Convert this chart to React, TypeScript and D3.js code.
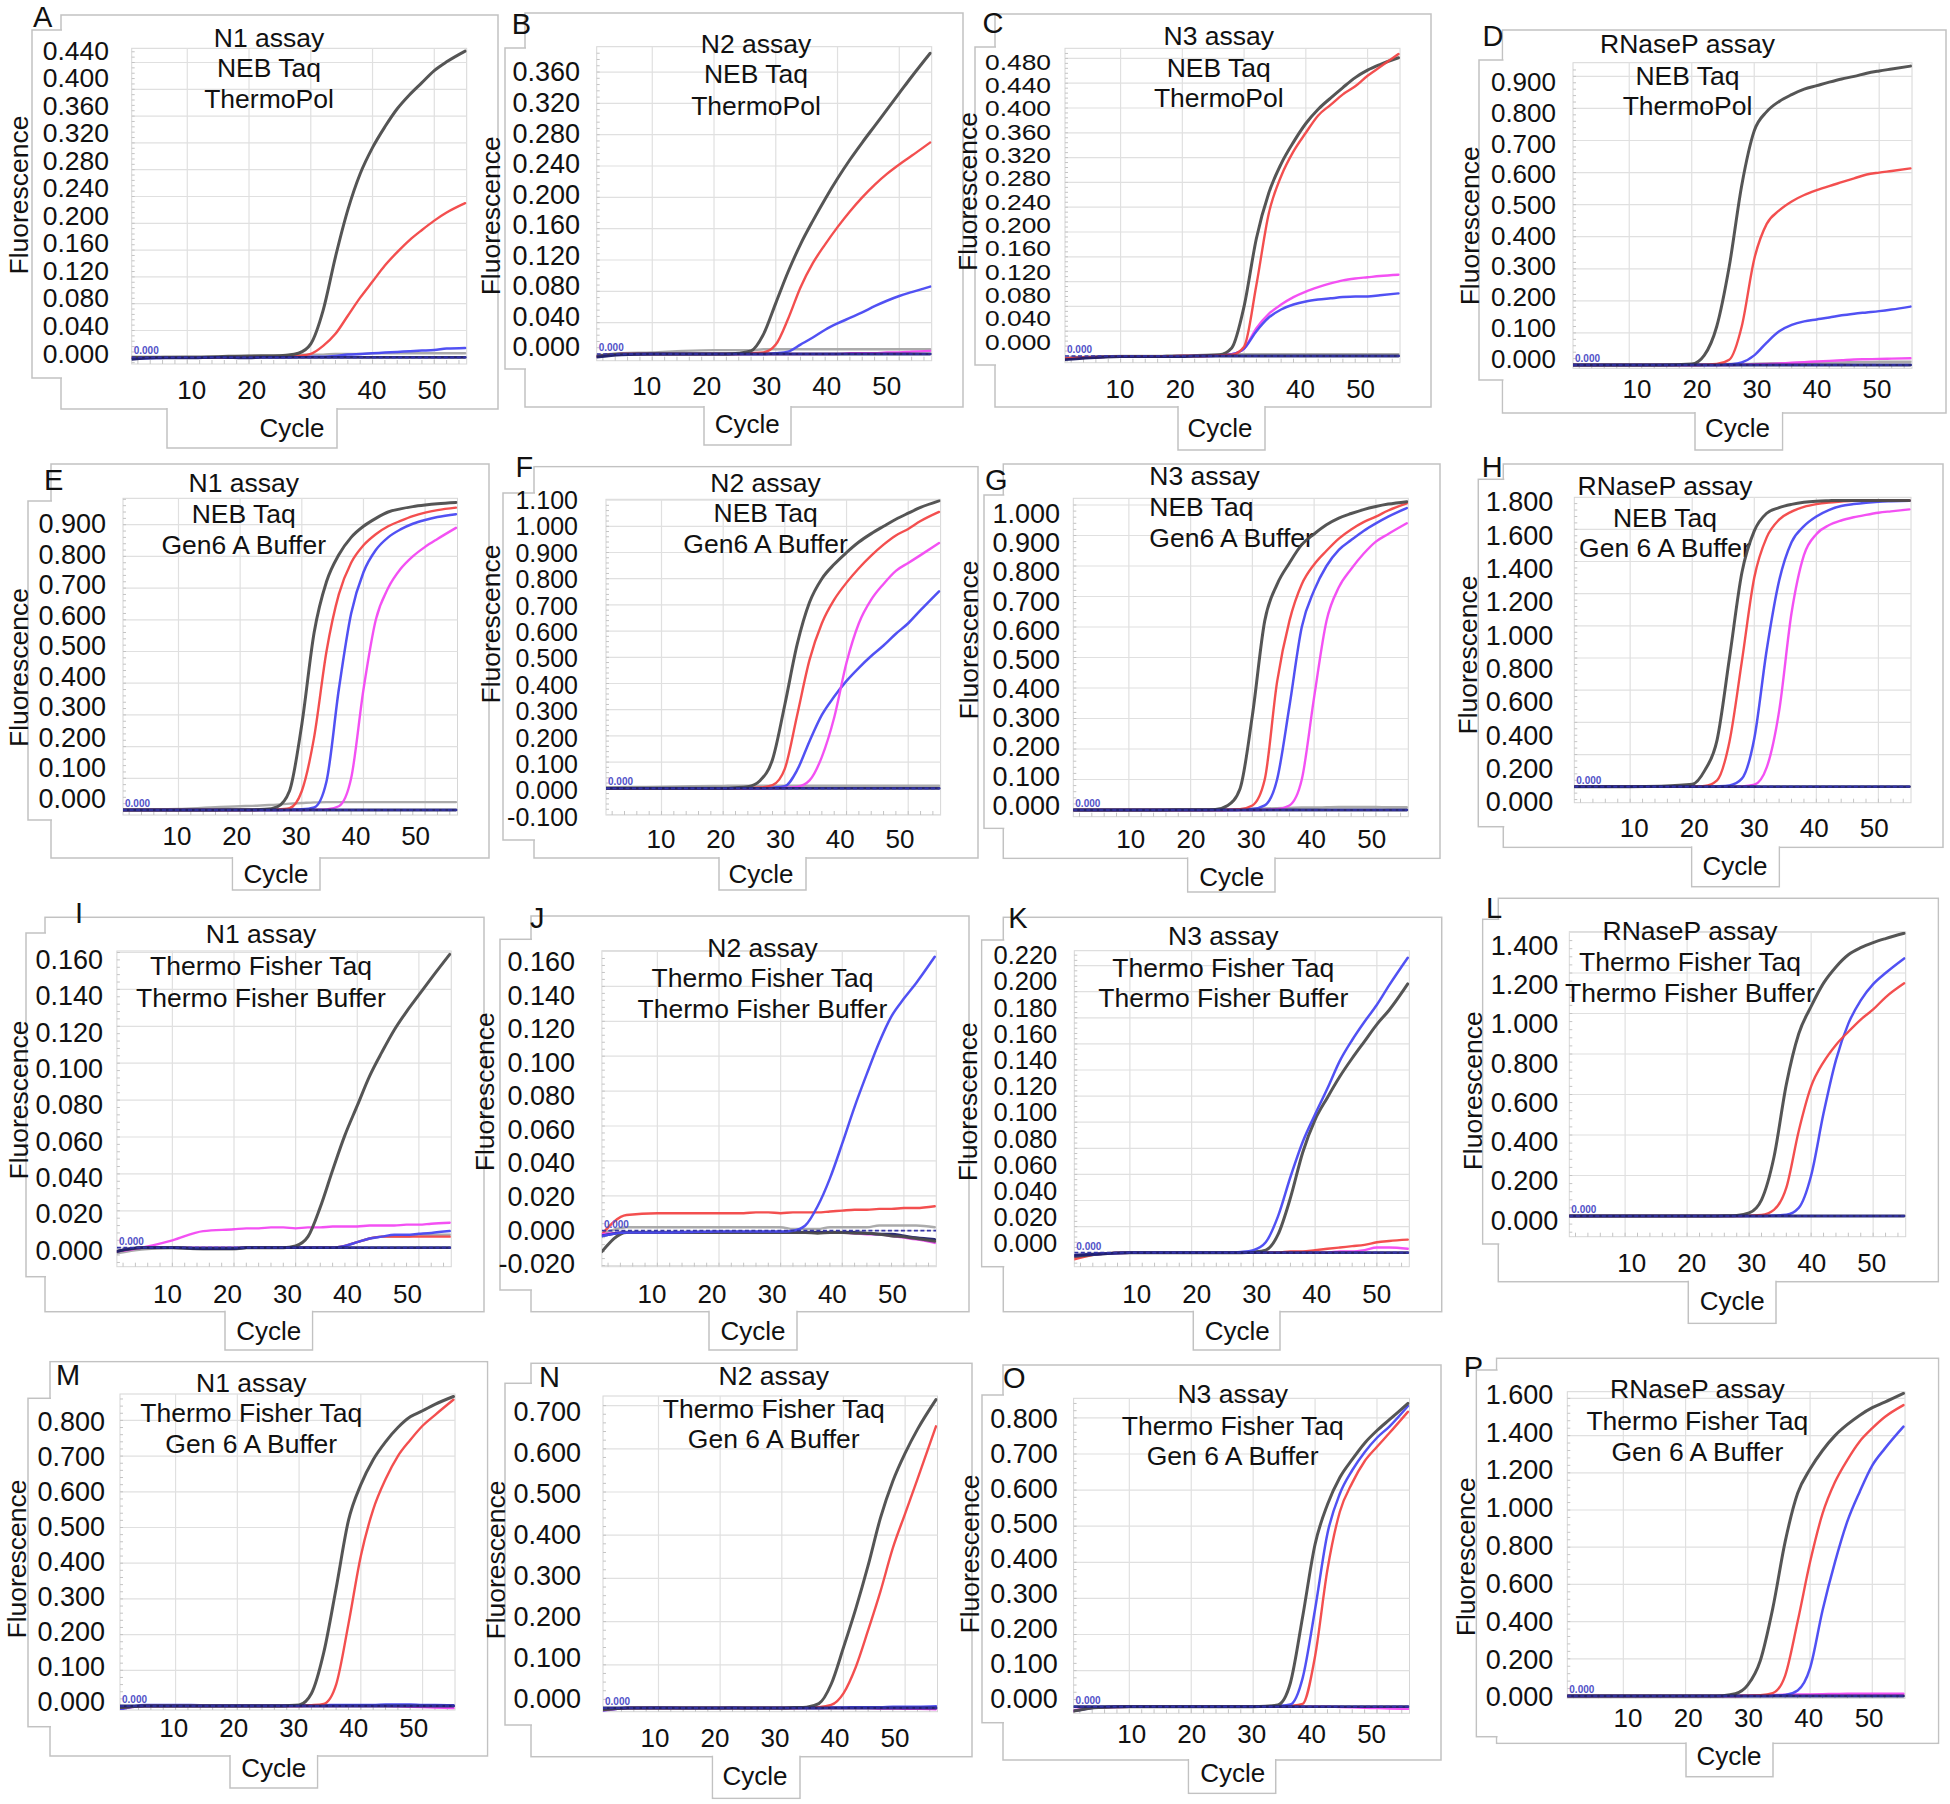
import React from "react";
import * as d3 from "d3";

// ---------------- data ----------------
const CYCLES = [1, 5, 10, 15, 20, 22, 24, 26, 28, 30, 32, 34, 36, 38, 40, 42, 44, 46, 48, 50, 52, 55];
const X_TICK_VALUES = [10, 20, 30, 40, 50];
const X_TICK_LABELS = ["10", "20", "30", "40", "50"];
const X_DOMAIN = [1, 55.25];
const BASELINE = [0, 0, 0, 0, 0, 0, 0, 0, 0, 0, 0, 0, 0, 0, 0, 0, 0, 0, 0, 0, 0, 0];

// A  N1 / NEB Taq / ThermoPol
const A_black = [0, 0, 0, 0.001, 0.002, 0.002, 0.002, 0.003, 0.006, 0.02, 0.07, 0.15, 0.22, 0.274, 0.313, 0.344, 0.371, 0.392, 0.41, 0.428, 0.441, 0.457];
const A_red = [0, 0, 0, 0, 0.001, 0.001, 0.001, 0.001, 0.002, 0.005, 0.017, 0.035, 0.062, 0.089, 0.113, 0.137, 0.157, 0.175, 0.19, 0.204, 0.216, 0.23];
const A_blue = [-0.002, -0.001, 0, 0, 0, 0, 0, 0, 0.001, 0.001, 0.001, 0.002, 0.004, 0.005, 0.006, 0.007, 0.008, 0.009, 0.01, 0.011, 0.013, 0.014];
const A_gray = [-0.001, 0, 0.001, 0.001, 0.002, 0.003, 0.003, 0.003, 0.004, 0.004, 0.004, 0.005, 0.005, 0.005, 0.006, 0.006, 0.006, 0.006, 0.006, 0.006, 0.006, 0.006];
const A_navy = [-0.003, -0.001, -0.001, 0, -0.001, 0, 0, 0, 0, 0, 0, 0, 0, 0, 0, 0, 0, 0, 0, 0, 0, 0];
// B  N2 / NEB Taq / ThermoPol
const B_black = [-0.003, 0, 0, 0, 0, 0, 0.001, 0.004, 0.025, 0.065, 0.105, 0.14, 0.17, 0.198, 0.224, 0.248, 0.27, 0.291, 0.312, 0.333, 0.354, 0.384];
const B_red = [-0.003, 0, 0, 0, 0, 0, 0, 0.001, 0.002, 0.012, 0.045, 0.085, 0.116, 0.14, 0.162, 0.182, 0.2, 0.216, 0.23, 0.242, 0.253, 0.27];
const B_blue = [-0.003, 0, 0, 0, 0, 0, 0, 0, 0, 0.001, 0.003, 0.012, 0.021, 0.031, 0.039, 0.046, 0.053, 0.061, 0.068, 0.074, 0.079, 0.086];
const B_gray = [-0.002, 0.001, 0.002, 0.004, 0.005, 0.005, 0.005, 0.005, 0.006, 0.006, 0.006, 0.006, 0.006, 0.006, 0.006, 0.006, 0.006, 0.006, 0.006, 0.006, 0.006, 0.006];
const B_magenta = [-0.003, 0, 0, 0, 0, 0, 0, 0, 0, 0, 0, 0, 0, 0, 0, 0.001, 0.001, 0.001, 0.002, 0.002, 0.003, 0.004];
const B_navy = [-0.004, -0.001, 0, 0, 0, 0, 0, 0, 0, 0, 0, 0, 0, 0, 0, 0, 0, 0, 0, 0, 0, 0];
// C  N3 / NEB Taq / ThermoPol
const C_black = [-0.004, -0.002, -0.001, -0.001, 0, 0, 0.001, 0.002, 0.013, 0.08, 0.19, 0.263, 0.31, 0.345, 0.375, 0.398, 0.416, 0.433, 0.449, 0.461, 0.47, 0.481];
const C_red = [-0.004, -0.002, -0.001, -0.001, 0, 0, 0, 0.001, 0.002, 0.015, 0.115, 0.23, 0.29, 0.33, 0.36, 0.388, 0.405, 0.422, 0.435, 0.452, 0.466, 0.487];
const C_magenta = [-0.004, -0.002, -0.001, -0.001, 0, 0, 0, 0.001, 0.003, 0.012, 0.045, 0.068, 0.083, 0.095, 0.104, 0.111, 0.117, 0.122, 0.125, 0.127, 0.129, 0.131];
const C_blue = [-0.004, -0.002, -0.001, -0.001, 0, 0, 0, 0.001, 0.003, 0.012, 0.04, 0.062, 0.075, 0.083, 0.088, 0.091, 0.093, 0.095, 0.096, 0.096, 0.098, 0.101];
const C_gray = [-0.004, -0.002, 0, 0, 0.001, 0.001, 0.002, 0.002, 0.003, 0.003, 0.003, 0.003, 0.003, 0.003, 0.003, 0.003, 0.003, 0.003, 0.003, 0.003, 0.003, 0.003];
const C_navy = [-0.006, -0.003, -0.001, -0.001, -0.001, 0, 0, 0, 0, 0, 0, 0, 0, 0, 0, 0, 0, 0, 0, 0, 0, 0];
// D  RNaseP / NEB Taq / ThermoPol
const D_black = [0, 0, 0, 0, 0.003, 0.03, 0.12, 0.307, 0.56, 0.73, 0.79, 0.822, 0.843, 0.86, 0.871, 0.882, 0.892, 0.9, 0.91, 0.917, 0.923, 0.932];
const D_red = [0, 0, 0, 0, 0, 0.001, 0.003, 0.016, 0.12, 0.33, 0.44, 0.482, 0.51, 0.53, 0.545, 0.558, 0.57, 0.582, 0.594, 0.6, 0.605, 0.613];
const D_blue = [0, 0, 0, 0, 0, 0, 0, 0.002, 0.008, 0.03, 0.07, 0.105, 0.125, 0.136, 0.142, 0.148, 0.155, 0.16, 0.164, 0.168, 0.173, 0.182];
const D_magenta = [0, 0, 0, 0, 0, 0, 0, 0, 0.001, 0.002, 0.003, 0.005, 0.007, 0.009, 0.011, 0.013, 0.015, 0.017, 0.018, 0.019, 0.02, 0.021];
const D_gray = [0, 0, 0, 0.001, 0.001, 0.002, 0.002, 0.003, 0.003, 0.004, 0.005, 0.006, 0.006, 0.007, 0.007, 0.008, 0.008, 0.009, 0.009, 0.01, 0.01, 0.01];
// E  N1 / NEB Taq / Gen6 A
const E_black = [0, 0, 0, 0, 0.001, 0.001, 0.002, 0.01, 0.06, 0.27, 0.56, 0.72, 0.805, 0.86, 0.895, 0.92, 0.94, 0.95, 0.957, 0.962, 0.966, 0.97];
const E_red = [0, 0, 0, 0, 0, 0, 0.001, 0.002, 0.006, 0.06, 0.23, 0.5, 0.68, 0.78, 0.835, 0.87, 0.895, 0.912, 0.927, 0.938, 0.946, 0.954];
const E_blue = [0, 0, 0, 0, 0, 0, 0, 0, 0.001, 0.002, 0.008, 0.09, 0.38, 0.62, 0.75, 0.82, 0.86, 0.885, 0.903, 0.915, 0.924, 0.933];
const E_magenta = [0, 0, 0, 0, 0, 0, 0, 0, 0, 0, 0.001, 0.002, 0.012, 0.1, 0.38, 0.6, 0.7, 0.76, 0.8, 0.83, 0.855, 0.89];
const E_gray = [0, 0.002, 0.003, 0.008, 0.012, 0.013, 0.015, 0.017, 0.02, 0.022, 0.024, 0.025, 0.025, 0.025, 0.025, 0.025, 0.025, 0.025, 0.025, 0.025, 0.025, 0.025];
// F  N2 / NEB Taq / Gen6 A
const F_black = [0, 0, 0, 0, 0, 0.002, 0.006, 0.03, 0.11, 0.32, 0.55, 0.71, 0.8, 0.855, 0.9, 0.94, 0.972, 1.0, 1.027, 1.05, 1.072, 1.097];
const F_red = [0, 0, 0, 0, 0, 0, 0.001, 0.003, 0.012, 0.075, 0.28, 0.49, 0.63, 0.72, 0.785, 0.84, 0.888, 0.93, 0.965, 0.99, 1.02, 1.055];
const F_magenta = [0, 0, 0, 0, 0, 0, 0, 0, 0, 0.001, 0.005, 0.03, 0.12, 0.27, 0.48, 0.63, 0.72, 0.78, 0.83, 0.86, 0.89, 0.936];
const F_blue = [0, 0, 0, 0, 0, 0, 0, 0, 0.002, 0.008, 0.07, 0.18, 0.28, 0.35, 0.41, 0.46, 0.505, 0.545, 0.59, 0.63, 0.68, 0.752];
const F_gray = [0.003, 0.005, 0.006, 0.008, 0.009, 0.01, 0.01, 0.01, 0.01, 0.01, 0.01, 0.01, 0.01, 0.01, 0.01, 0.01, 0.01, 0.01, 0.01, 0.01, 0.01, 0.01];
// G  N3 / NEB Taq / Gen6 A
const G_black = [0, 0, 0, 0, 0.001, 0.001, 0.002, 0.015, 0.07, 0.31, 0.62, 0.74, 0.81, 0.87, 0.905, 0.935, 0.957, 0.972, 0.985, 0.995, 1.003, 1.011];
const G_red = [0, 0, 0, 0, 0, 0, 0, 0.001, 0.003, 0.015, 0.1, 0.42, 0.62, 0.74, 0.805, 0.85, 0.89, 0.92, 0.944, 0.962, 0.982, 1.005];
const G_blue = [0, 0, 0, 0, 0, 0, 0, 0, 0.001, 0.003, 0.015, 0.1, 0.34, 0.6, 0.72, 0.8, 0.853, 0.885, 0.915, 0.94, 0.962, 0.99];
const G_magenta = [0, 0, 0, 0, 0, 0, 0, 0, 0, 0, 0.001, 0.003, 0.015, 0.1, 0.37, 0.62, 0.73, 0.79, 0.84, 0.88, 0.905, 0.94];
const G_gray = [0, 0, 0, 0, 0, 0.001, 0.001, 0.002, 0.003, 0.004, 0.005, 0.006, 0.007, 0.008, 0.008, 0.009, 0.01, 0.01, 0.01, 0.01, 0.009, 0.009];
// H  RNaseP / NEB Taq / Gen 6 A
const H_black = [0, 0, 0, 0.003, 0.015, 0.1, 0.29, 0.8, 1.33, 1.59, 1.7, 1.735, 1.755, 1.768, 1.775, 1.778, 1.78, 1.78, 1.78, 1.78, 1.78, 1.78];
const H_red = [0, 0, 0, 0, 0.002, 0.005, 0.04, 0.28, 0.78, 1.3, 1.55, 1.66, 1.71, 1.74, 1.757, 1.767, 1.773, 1.778, 1.78, 1.78, 1.78, 1.78];
const H_blue = [0, 0, 0, 0, 0, 0, 0.002, 0.008, 0.05, 0.3, 0.85, 1.28, 1.52, 1.62, 1.68, 1.72, 1.745, 1.757, 1.766, 1.772, 1.775, 1.778];
const H_magenta = [0, 0, 0, 0, 0, 0, 0, 0, 0.002, 0.012, 0.12, 0.47, 1.08, 1.44, 1.57, 1.625, 1.655, 1.675, 1.69, 1.703, 1.712, 1.724];
// I  N1 / TF Taq / TF Buffer
const I_black = [-0.002, 0, 0, -0.0005, -0.0005, 0, 0, 0, 0, 0.001, 0.006, 0.022, 0.042, 0.061, 0.077, 0.093, 0.106, 0.118, 0.128, 0.137, 0.146, 0.159];
const I_magenta = [-0.002, 0, 0.004, 0.009, 0.01, 0.0105, 0.0105, 0.011, 0.011, 0.0105, 0.011, 0.011, 0.0115, 0.0115, 0.0115, 0.012, 0.012, 0.012, 0.0125, 0.0125, 0.013, 0.0135];
const I_red = [-0.002, 0, 0, 0, 0, 0, 0, 0, 0, 0, 0, 0, 0, 0.001, 0.003, 0.005, 0.006, 0.006, 0.006, 0.006, 0.006, 0.006];
const I_blue = [-0.002, 0, 0, 0, 0, 0, 0, 0, 0, 0, 0, 0, 0, 0.001, 0.003, 0.005, 0.006, 0.007, 0.007, 0.0075, 0.008, 0.009];
const I_gray = [-0.003, -0.001, 0, -0.001, -0.001, 0, 0, 0, 0, 0, 0, 0, 0, 0.001, 0.003, 0.005, 0.006, 0.006, 0.006, 0.007, 0.007, 0.007];
const I_navy = [-0.002, 0, 0, -0.0005, -0.0005, 0, 0, 0, 0, 0, 0, 0, 0, 0, 0, 0, 0, 0, 0, 0, 0, 0];
// J  N2 / TF Taq / TF Buffer
const J_blue = [-0.003, -0.001, -0.001, -0.0008, -0.0005, -0.0005, -0.0005, -0.0005, -0.0005, -0.0005, 0, 0.003, 0.014, 0.03, 0.05, 0.071, 0.09, 0.108, 0.123, 0.133, 0.142, 0.157];
const J_red = [-0.002, 0.009, 0.01, 0.01, 0.01, 0.01, 0.01, 0.0105, 0.0105, 0.01, 0.0105, 0.0105, 0.0105, 0.011, 0.0115, 0.012, 0.012, 0.0125, 0.0125, 0.013, 0.013, 0.014];
const J_gray = [-0.002, 0.002, 0.002, 0.002, 0.002, 0.002, 0.002, 0.002, 0.002, 0.002, 0.001, 0.001, 0.001, 0.002, 0.002, 0.002, 0.002, 0.003, 0.003, 0.003, 0.003, 0.002];
const J_black = [-0.012, -0.001, -0.001, -0.001, -0.001, -0.001, -0.001, -0.001, -0.001, -0.001, -0.001, -0.001, -0.0015, -0.001, -0.001, -0.0015, -0.0015, -0.002, -0.003, -0.0035, -0.0045, -0.006];
const J_magenta = [-0.002, -0.001, -0.001, -0.001, -0.001, -0.001, -0.001, -0.001, -0.001, -0.001, -0.001, -0.001, -0.001, -0.001, -0.001, -0.0015, -0.002, -0.002, -0.003, -0.004, -0.005, -0.007];
const J_navy = [-0.003, -0.001, -0.001, -0.001, -0.001, -0.001, -0.001, -0.001, -0.001, -0.001, -0.001, -0.001, -0.001, -0.001, -0.001, -0.001, -0.0015, -0.002, -0.002, -0.003, -0.004, -0.005];
// K  N3 / TF Taq / TF Buffer
const K_blue = [-0.002, -0.001, 0, 0, 0, 0, 0, 0, 0.0005, 0.002, 0.008, 0.028, 0.058, 0.085, 0.106, 0.126, 0.147, 0.163, 0.177, 0.19, 0.205, 0.226];
const K_black = [-0.003, -0.001, 0, 0, 0, 0, 0, 0, 0, 0.0005, 0.002, 0.014, 0.042, 0.077, 0.102, 0.119, 0.135, 0.149, 0.162, 0.175, 0.186, 0.206];
const K_red = [-0.005, -0.001, 0, 0, 0, 0, 0, 0, 0, 0, 0, 0, 0.001, 0.001, 0.002, 0.003, 0.004, 0.005, 0.006, 0.008, 0.009, 0.01];
const K_magenta = [-0.003, -0.001, 0, 0, 0, 0, 0, 0, 0, 0, 0, 0, 0, 0, 0, 0, 0.001, 0.001, 0.002, 0.004, 0.004, 0.003];
const K_navy = [-0.002, -0.001, 0, 0, 0, 0, 0, 0, 0, 0, 0, 0, 0, 0, 0, 0, 0, 0, 0, 0, 0, 0];
// L  RNaseP / TF Taq / TF Buffer
const L_black = [0, 0, 0, 0, 0, 0, 0, 0.001, 0.003, 0.015, 0.08, 0.29, 0.65, 0.9, 1.035, 1.15, 1.23, 1.29, 1.325, 1.35, 1.37, 1.396];
const L_red = [0, 0, 0, 0, 0, 0, 0, 0, 0, 0.002, 0.005, 0.03, 0.14, 0.42, 0.64, 0.76, 0.845, 0.91, 0.97, 1.02, 1.08, 1.149];
const L_blue = [0, 0, 0, 0, 0, 0, 0, 0, 0, 0, 0, 0.002, 0.006, 0.04, 0.2, 0.507, 0.77, 0.95, 1.065, 1.145, 1.2, 1.272];
// M  N1 / TF Taq / Gen 6 A
const M_black = [-0.005, 0, 0, 0, 0, 0, 0, 0, 0.001, 0.003, 0.035, 0.15, 0.33, 0.52, 0.62, 0.69, 0.74, 0.78, 0.81, 0.827, 0.845, 0.867];
const M_red = [-0.005, 0, 0, 0, 0, 0, 0, 0, 0, 0, 0.002, 0.006, 0.06, 0.23, 0.42, 0.55, 0.635, 0.7, 0.745, 0.785, 0.815, 0.858];
const M_blue = [-0.01, 0.003, 0.003, 0.002, 0.002, 0.002, 0.002, 0.002, 0.002, 0.002, 0.002, 0.002, 0.003, 0.003, 0.003, 0.003, 0.004, 0.004, 0.004, 0.003, 0.003, 0.002];
const M_magenta = [-0.008, 0, 0, 0, 0, 0, 0, 0, 0, 0, 0, 0, 0, 0, 0, 0, 0, -0.001, -0.002, -0.003, -0.004, -0.006];
// N  N2 / TF Taq / Gen 6 A
const N_black = [-0.004, 0, 0, 0, 0, 0, 0, 0, 0, 0, 0.001, 0.002, 0.01, 0.055, 0.14, 0.23, 0.33, 0.44, 0.525, 0.59, 0.645, 0.714];
const N_red = [-0.004, 0, 0, 0, 0, 0, 0, 0, 0, 0, 0, 0.001, 0.002, 0.007, 0.034, 0.095, 0.18, 0.27, 0.37, 0.45, 0.53, 0.652];
const N_blue = [-0.006, 0, 0.001, 0, 0, 0.001, 0, 0, 0, 0, 0, 0, 0, 0.001, 0.001, 0.002, 0.002, 0.002, 0.003, 0.003, 0.003, 0.004];
const N_magenta = [-0.006, 0, 0, 0, 0, 0, 0, 0, 0, 0, 0, 0, 0, 0, 0, 0, 0, -0.001, -0.001, -0.002, -0.002, -0.003];
// O  N3 / TF Taq / Gen 6 A
const O_black = [-0.012, -0.002, 0, 0, 0, 0, 0, 0, 0, 0, 0.001, 0.005, 0.065, 0.25, 0.45, 0.56, 0.635, 0.685, 0.73, 0.765, 0.795, 0.84];
const O_blue = [-0.012, -0.002, 0, 0, 0, 0, 0, 0, 0, 0, 0, 0.002, 0.006, 0.08, 0.27, 0.48, 0.59, 0.655, 0.705, 0.745, 0.776, 0.833];
const O_red = [-0.012, -0.002, 0, 0, 0, 0, 0, 0, 0, 0, 0, 0, 0.002, 0.008, 0.14, 0.38, 0.54, 0.62, 0.68, 0.72, 0.758, 0.817];
const O_magenta = [-0.01, -0.002, 0, 0, 0, 0, 0, 0, 0, 0, 0, 0, 0, 0, 0, 0, -0.001, -0.002, -0.003, -0.004, -0.005, -0.006];
// P  RNaseP / TF Taq / Gen 6 A
const P_black = [0, 0, 0, 0, 0, 0, 0, 0.002, 0.012, 0.06, 0.19, 0.47, 0.83, 1.09, 1.22, 1.32, 1.4, 1.46, 1.51, 1.55, 1.58, 1.627];
const P_red = [0, 0, 0, 0, 0, 0, 0, 0, 0, 0.002, 0.004, 0.015, 0.11, 0.4, 0.72, 0.98, 1.15, 1.27, 1.37, 1.44, 1.5, 1.564];
const P_blue = [0, 0, 0, 0, 0, 0, 0, 0, 0, 0, 0, 0.002, 0.006, 0.03, 0.15, 0.46, 0.72, 0.94, 1.1, 1.24, 1.33, 1.448];
const P_magenta = [0, 0, 0, 0, 0, 0, 0, 0, 0, 0.002, 0.003, 0.005, 0.007, 0.008, 0.009, 0.01, 0.011, 0.012, 0.012, 0.012, 0.012, 0.012];

// y tick labels (top to bottom)
const A_yticks = ["0.440", "0.400", "0.360", "0.320", "0.280", "0.240", "0.200", "0.160", "0.120", "0.080", "0.040", "0.000"];
const B_yticks = ["0.360", "0.320", "0.280", "0.240", "0.200", "0.160", "0.120", "0.080", "0.040", "0.000"];
const C_yticks = ["0.480", "0.440", "0.400", "0.360", "0.320", "0.280", "0.240", "0.200", "0.160", "0.120", "0.080", "0.040", "0.000"];
const D_yticks = ["0.900", "0.800", "0.700", "0.600", "0.500", "0.400", "0.300", "0.200", "0.100", "0.000"];
const E_yticks = ["0.900", "0.800", "0.700", "0.600", "0.500", "0.400", "0.300", "0.200", "0.100", "0.000"];
const F_yticks = ["1.100", "1.000", "0.900", "0.800", "0.700", "0.600", "0.500", "0.400", "0.300", "0.200", "0.100", "0.000", "-0.100"];
const G_yticks = ["1.000", "0.900", "0.800", "0.700", "0.600", "0.500", "0.400", "0.300", "0.200", "0.100", "0.000"];
const H_yticks = ["1.800", "1.600", "1.400", "1.200", "1.000", "0.800", "0.600", "0.400", "0.200", "0.000"];
const I_yticks = ["0.160", "0.140", "0.120", "0.100", "0.080", "0.060", "0.040", "0.020", "0.000"];
const J_yticks = ["0.160", "0.140", "0.120", "0.100", "0.080", "0.060", "0.040", "0.020", "0.000", "-0.020"];
const K_yticks = ["0.220", "0.200", "0.180", "0.160", "0.140", "0.120", "0.100", "0.080", "0.060", "0.040", "0.020", "0.000"];
const L_yticks = ["1.400", "1.200", "1.000", "0.800", "0.600", "0.400", "0.200", "0.000"];
const M_yticks = ["0.800", "0.700", "0.600", "0.500", "0.400", "0.300", "0.200", "0.100", "0.000"];
const N_yticks = ["0.700", "0.600", "0.500", "0.400", "0.300", "0.200", "0.100", "0.000"];
const O_yticks = ["0.800", "0.700", "0.600", "0.500", "0.400", "0.300", "0.200", "0.100", "0.000"];
const P_yticks = ["1.600", "1.400", "1.200", "1.000", "0.800", "0.600", "0.400", "0.200", "0.000"];

// ---------------- styles ----------------
const FONT = "'Liberation Sans', Arial, Helvetica, sans-serif";
const TITLE_FONT = 26.5;
const XTICK_FONT = 26;
const CYCLE_FONT = 26;
const YLABEL_FONT = 26.5;
const LETTER_FONT = 29;
const COLORS: Record<string, string> = {
  black: "#4c4c4c",
  red: "#f24646",
  blue: "#4848f2",
  magenta: "#f248f2",
  gray: "#a6a6a6",
  navy: "#1f1f6a",
};
const WIDTHS: Record<string, number> = { black: 3, red: 2.4, blue: 2.5, magenta: 2.4, gray: 2.4, navy: 2.8 };

type Series = [string, number[]];
type Panel = {
  letter: string;
  letterPos: [number, number];
  titles: string[];
  titleX: number;
  titleY: number[];
  titleAnchor: "middle" | "start";
  plot: [number, number, number, number];
  zero: number;
  step: number;
  stepPx: number;
  yTicks: string[];
  yTickRight: number;
  yTickFirst: number;
  yTickLast: number;
  yTickFont: number;
  yTickWidth?: number;
  xTick10: number;
  xTick50: number;
  xTickBase: number;
  cycle: [number, number];
  yLabel: [number, number];
  frameMain: [number, number, number, number];
  frameY: [number, number, number];
  frameC: [number, number, number];
  series: Series[];
};

const PANELS: Panel[] = [
  {
    letter: "A", letterPos: [33, 27], titles: ["N1 assay", "NEB Taq", "ThermoPol"], titleX: 269, titleY: [47, 77, 108], titleAnchor: "middle",
    plot: [131.7, 48.3, 466.7, 364], zero: 357.3, step: 0.04, stepPx: 26.8,
    yTicks: A_yticks, yTickRight: 109, yTickFirst: 50, yTickLast: 353, yTickFont: 26.5,
    xTick10: 191.7, xTick50: 432, xTickBase: 399, cycle: [292, 437], yLabel: [28, 195],
    frameMain: [61, 15, 498, 409], frameY: [32, 30, 378], frameC: [167, 337, 448],
    series: [["gray", A_gray], ["blue", A_blue], ["red", A_red], ["black", A_black], ["navy", A_navy]],
  },
  {
    letter: "B", letterPos: [511.7, 34.3], titles: ["N2 assay", "NEB Taq", "ThermoPol"], titleX: 756, titleY: [53.3, 83.3, 115], titleAnchor: "middle",
    plot: [596.7, 46.7, 931.7, 360.7], zero: 354, step: 0.04, stepPx: 31.33,
    yTicks: B_yticks, yTickRight: 580, yTickFirst: 71.7, yTickLast: 346.7, yTickFont: 27,
    xTick10: 646.7, xTick50: 886.7, xTickBase: 395, cycle: [747.3, 432.7], yLabel: [500, 215.8],
    frameMain: [525, 13, 963, 407], frameY: [505, 48, 369], frameC: [704, 791, 445],
    series: [["gray", B_gray], ["magenta", B_magenta], ["blue", B_blue], ["red", B_red], ["black", B_black], ["navy", B_navy]],
  },
  {
    letter: "C", letterPos: [982.5, 33.3], titles: ["N3 assay", "NEB Taq", "ThermoPol"], titleX: 1218.75, titleY: [45, 76.7, 107.3], titleAnchor: "middle",
    plot: [1065, 48.3, 1400, 362.7], zero: 356, step: 0.04, stepPx: 24.8,
    yTicks: C_yticks, yTickRight: 1051, yTickFirst: 61.7, yTickLast: 341.7, yTickFont: 22.5, yTickWidth: 66,
    xTick10: 1120, xTick50: 1360.6, xTickBase: 398, cycle: [1220, 436.7], yLabel: [977, 191.5],
    frameMain: [995, 14, 1431, 407], frameY: [975, 47, 365], frameC: [1178, 1265, 450],
    series: [["gray", C_gray], ["magenta", C_magenta], ["blue", C_blue], ["black", C_black], ["red", C_red], ["navy", C_navy]],
  },
  {
    letter: "D", letterPos: [1482.5, 46], titles: ["RNaseP assay", "NEB Taq", "ThermoPol"], titleX: 1687.5, titleY: [53.3, 85, 115], titleAnchor: "middle",
    plot: [1573, 62.7, 1912, 368.3], zero: 365, step: 0.1, stepPx: 32.07,
    yTicks: D_yticks, yTickRight: 1556, yTickFirst: 81.7, yTickLast: 358.3, yTickFont: 26,
    xTick10: 1637, xTick50: 1877, xTickBase: 398.3, cycle: [1737.5, 436.7], yLabel: [1479, 225.8],
    frameMain: [1502.5, 30, 1946, 413], frameY: [1479, 60, 380], frameC: [1695, 1782.5, 450],
    series: [["gray", D_gray], ["magenta", D_magenta], ["blue", D_blue], ["red", D_red], ["black", D_black], ["navy", BASELINE]],
  },
  {
    letter: "E", letterPos: [44, 490], titles: ["N1 assay", "NEB Taq", "Gen6 A Buffer"], titleX: 243.75, titleY: [491.7, 523.3, 554], titleAnchor: "middle",
    plot: [123, 498.3, 457.5, 815], zero: 810, step: 0.1, stepPx: 31.7,
    yTicks: E_yticks, yTickRight: 106, yTickFirst: 523.3, yTickLast: 798.3, yTickFont: 27,
    xTick10: 177, xTick50: 415.6, xTickBase: 845, cycle: [276, 883.3], yLabel: [28, 667.5],
    frameMain: [51, 464, 489, 858], frameY: [28, 501, 820], frameC: [232.5, 320, 890],
    series: [["gray", E_gray], ["magenta", E_magenta], ["blue", E_blue], ["red", E_red], ["black", E_black], ["navy", BASELINE]],
  },
  {
    letter: "F", letterPos: [515.6, 476.7], titles: ["N2 assay", "NEB Taq", "Gen6 A Buffer"], titleX: 765.6, titleY: [491.7, 521.7, 553.3], titleAnchor: "middle",
    plot: [606, 499.3, 940.6, 815], zero: 788.3, step: 0.1, stepPx: 26.2,
    yTicks: F_yticks, yTickRight: 578, yTickFirst: 500, yTickLast: 816.7, yTickFont: 25,
    xTick10: 661, xTick50: 900, xTickBase: 848.3, cycle: [761, 883], yLabel: [500, 624],
    frameMain: [534, 466.7, 978, 858], frameY: [503, 493, 840], frameC: [719, 806, 890],
    series: [["gray", F_gray], ["blue", F_blue], ["magenta", F_magenta], ["red", F_red], ["black", F_black], ["navy", BASELINE]],
  },
  {
    letter: "G", letterPos: [985, 490], titles: ["N3 assay", "NEB Taq", "Gen6 A Buffer"], titleX: 1149.3, titleY: [485, 516, 547.3], titleAnchor: "start",
    plot: [1073.3, 498.3, 1408.3, 816.7], zero: 810, step: 0.1, stepPx: 30.5,
    yTicks: G_yticks, yTickRight: 1060, yTickFirst: 513.3, yTickLast: 805, yTickFont: 27,
    xTick10: 1130.7, xTick50: 1371.7, xTickBase: 848.3, cycle: [1231.7, 886], yLabel: [978, 640],
    frameMain: [1003.3, 464, 1440, 858.3], frameY: [984, 495, 828.3], frameC: [1187.7, 1275, 892],
    series: [["gray", G_gray], ["magenta", G_magenta], ["blue", G_blue], ["red", G_red], ["black", G_black], ["navy", BASELINE]],
  },
  {
    letter: "H", letterPos: [1481.7, 477.3], titles: ["RNaseP assay", "NEB Taq", "Gen 6 A Buffer"], titleX: 1665, titleY: [495, 527.3, 557.3], titleAnchor: "middle",
    plot: [1574.3, 497.3, 1911, 802.7], zero: 786.7, step: 0.2, stepPx: 32.17,
    yTicks: H_yticks, yTickRight: 1553.3, yTickFirst: 501.7, yTickLast: 801.7, yTickFont: 27,
    xTick10: 1634.3, xTick50: 1874.3, xTickBase: 837.3, cycle: [1735, 875], yLabel: [1477, 655],
    frameMain: [1503.3, 464, 1943, 847.3], frameY: [1478.3, 479.3, 826.7], frameC: [1691.7, 1779.3, 886.7],
    series: [["magenta", H_magenta], ["blue", H_blue], ["red", H_red], ["black", H_black], ["navy", BASELINE]],
  },
  {
    letter: "I", letterPos: [75, 923.3], titles: ["N1 assay", "Thermo Fisher Taq", "Thermo Fisher Buffer"], titleX: 261, titleY: [943.3, 975, 1006.7], titleAnchor: "middle",
    plot: [116.9, 951, 451.25, 1266.7], zero: 1247.7, step: 0.02, stepPx: 36.9,
    yTicks: I_yticks, yTickRight: 103, yTickFirst: 959.3, yTickLast: 1250, yTickFont: 27,
    xTick10: 167.5, xTick50: 407.5, xTickBase: 1303.3, cycle: [268.75, 1340], yLabel: [28, 1100],
    frameMain: [45, 917.3, 484, 1311.7], frameY: [26, 933, 1276.7], frameC: [225, 312.5, 1350],
    series: [["gray", I_gray], ["red", I_red], ["blue", I_blue], ["magenta", I_magenta], ["black", I_black], ["navy", I_navy]],
  },
  {
    letter: "J", letterPos: [530, 928.3], titles: ["N2 assay", "Thermo Fisher Taq", "Thermo Fisher Buffer"], titleX: 762.5, titleY: [956.7, 986.7, 1018.3], titleAnchor: "middle",
    plot: [601.9, 950.7, 936.25, 1266.7], zero: 1230.7, step: 0.02, stepPx: 34.9,
    yTicks: J_yticks, yTickRight: 575, yTickFirst: 961.7, yTickLast: 1263.3, yTickFont: 27,
    xTick10: 651.9, xTick50: 892.5, xTickBase: 1303.3, cycle: [753, 1340], yLabel: [494, 1091.7],
    frameMain: [531, 916, 969, 1311.7], frameY: [500, 939.3, 1290], frameC: [709, 797, 1350],
    series: [["gray", J_gray], ["red", J_red], ["magenta", J_magenta], ["navy", J_navy], ["black", J_black], ["blue", J_blue]],
  },
  {
    letter: "K", letterPos: [1008.3, 928.3], titles: ["N3 assay", "Thermo Fisher Taq", "Thermo Fisher Buffer"], titleX: 1223.3, titleY: [945, 976.7, 1006.7], titleAnchor: "middle",
    plot: [1074.3, 950.7, 1409.3, 1266.7], zero: 1252.7, step: 0.02, stepPx: 26.1,
    yTicks: K_yticks, yTickRight: 1057.3, yTickFirst: 955, yTickLast: 1243.3, yTickFont: 25.5,
    xTick10: 1136.7, xTick50: 1376.7, xTickBase: 1302.7, cycle: [1237.3, 1340], yLabel: [977, 1101.7],
    frameMain: [1003.3, 917.3, 1441.7, 1311.7], frameY: [981.7, 940, 1266.7], frameC: [1193.3, 1280, 1350],
    series: [["magenta", K_magenta], ["red", K_red], ["black", K_black], ["blue", K_blue], ["navy", K_navy]],
  },
  {
    letter: "L", letterPos: [1486, 918.3], titles: ["RNaseP assay", "Thermo Fisher Taq", "Thermo Fisher Buffer"], titleX: 1690, titleY: [940, 970.7, 1001.7], titleAnchor: "middle",
    plot: [1569.3, 931.7, 1905.7, 1236.7], zero: 1216, step: 0.2, stepPx: 40.5,
    yTicks: L_yticks, yTickRight: 1558.3, yTickFirst: 945, yTickLast: 1220, yTickFont: 27,
    xTick10: 1631.7, xTick50: 1871.7, xTickBase: 1271.7, cycle: [1732.3, 1310], yLabel: [1481.7, 1090.8],
    frameMain: [1498.3, 898.3, 1938.3, 1281.7], frameY: [1482.7, 919.3, 1244], frameC: [1688.3, 1776, 1323.3],
    series: [["blue", L_blue], ["red", L_red], ["black", L_black], ["navy", BASELINE]],
  },
  {
    letter: "M", letterPos: [56, 1385], titles: ["N1 assay", "Thermo Fisher Taq", "Gen 6 A Buffer"], titleX: 251.25, titleY: [1391.7, 1421.7, 1453.3], titleAnchor: "middle",
    plot: [120, 1394, 455, 1710], zero: 1706, step: 0.1, stepPx: 35.7,
    yTicks: M_yticks, yTickRight: 105, yTickFirst: 1421.7, yTickLast: 1701.7, yTickFont: 27,
    xTick10: 173.75, xTick50: 413.75, xTickBase: 1737.3, cycle: [273.75, 1776.7], yLabel: [26, 1559],
    frameMain: [50, 1361.7, 487.5, 1756], frameY: [28, 1398.3, 1726.7], frameC: [230, 317.5, 1788],
    series: [["magenta", M_magenta], ["blue", M_blue], ["red", M_red], ["black", M_black], ["navy", BASELINE]],
  },
  {
    letter: "N", letterPos: [539, 1386.7], titles: ["N2 assay", "Thermo Fisher Taq", "Gen 6 A Buffer"], titleX: 773.75, titleY: [1385, 1418.3, 1448.3], titleAnchor: "middle",
    plot: [603, 1396, 937.5, 1711.7], zero: 1708, step: 0.1, stepPx: 43.2,
    yTicks: N_yticks, yTickRight: 581, yTickFirst: 1411.7, yTickLast: 1698.3, yTickFont: 27,
    xTick10: 655, xTick50: 895, xTickBase: 1746.7, cycle: [755, 1785], yLabel: [505, 1560],
    frameMain: [531, 1363.3, 972, 1756.7], frameY: [505, 1383.3, 1725], frameC: [712.5, 800, 1798.3],
    series: [["magenta", N_magenta], ["blue", N_blue], ["red", N_red], ["black", N_black], ["navy", BASELINE]],
  },
  {
    letter: "O", letterPos: [1003, 1388.3], titles: ["N3 assay", "Thermo Fisher Taq", "Gen 6 A Buffer"], titleX: 1232.7, titleY: [1403.3, 1435, 1465], titleAnchor: "middle",
    plot: [1073.6, 1398.3, 1409.5, 1713.3], zero: 1706.7, step: 0.1, stepPx: 36.1,
    yTicks: O_yticks, yTickRight: 1057.9, yTickFirst: 1418.3, yTickLast: 1698.3, yTickFont: 27,
    xTick10: 1131.7, xTick50: 1371.6, xTickBase: 1743.3, cycle: [1232.7, 1781.7], yLabel: [979, 1554],
    frameMain: [1003, 1365, 1441, 1760], frameY: [982, 1395, 1722.7], frameC: [1188.5, 1275.7, 1793.3],
    series: [["magenta", O_magenta], ["red", O_red], ["blue", O_blue], ["black", O_black], ["navy", BASELINE]],
  },
  {
    letter: "P", letterPos: [1463.8, 1376.7], titles: ["RNaseP assay", "Thermo Fisher Taq", "Gen 6 A Buffer"], titleX: 1697.4, titleY: [1398.3, 1430, 1460.7], titleAnchor: "middle",
    plot: [1567.3, 1391.7, 1905, 1698.3], zero: 1696, step: 0.2, stepPx: 37.2,
    yTicks: P_yticks, yTickRight: 1553.4, yTickFirst: 1394, yTickLast: 1696.7, yTickFont: 27,
    xTick10: 1627.9, xTick50: 1869.1, xTickBase: 1726.7, cycle: [1729, 1765], yLabel: [1474.5, 1556.7],
    frameMain: [1496.6, 1358.3, 1938.5, 1743.3], frameY: [1476.4, 1370, 1736.7], frameC: [1686, 1773, 1776.7],
    series: [["magenta", P_magenta], ["blue", P_blue], ["red", P_red], ["black", P_black], ["navy", BASELINE]],
  },
];

function frameRects(p: Panel): number[][] {
  const [mx0, my0, mx1, my1] = p.frameMain;
  return [
    [mx0, my0, mx1, my1],
    [p.frameY[0], p.frameY[1], mx0 + 6, p.frameY[2]],
    [p.frameC[0], my1 - 6, p.frameC[1], p.frameC[2]],
  ];
}

function PanelView({ p }: { p: Panel }) {
  const [px0, py0, px1, py1] = p.plot;
  const xs = d3.scaleLinear().domain(X_DOMAIN).range([px0, px1]);
  const ys = d3.scaleLinear().domain([0, p.step]).range([p.zero, p.zero - p.stepPx]);
  const vBottom = ys.invert(py1);
  const vTop = ys.invert(py0);
  const kMin = Math.ceil(vBottom / p.step - 1e-6);
  const kMax = Math.floor(vTop / p.step + 1e-6);
  const gridVals = d3.range(kMin, kMax + 1).map((k) => k * p.step);
  const minorVals = d3
    .range(kMin * 5 - 5, kMax * 5 + 6)
    .map((k) => (k * p.step) / 5)
    .filter((v) => ys(v) > py0 + 1 && ys(v) < py1 - 1);
  const minorX = d3.range(2, 56, 2).filter((c) => xs(c) < px1 - 1);
  const line = d3
    .line<number>()
    .x((_, i) => xs(CYCLES[i]))
    .y((v) => ys(v))
    .curve(d3.curveMonotoneX);
  const yl = d3.scaleLinear().domain([0, p.yTicks.length - 1]).range([p.yTickFirst, p.yTickLast]);
  const xl = d3.scaleLinear().domain([10, 50]).range([p.xTick10, p.xTick50]);
  const clipId = `clip-${p.letter}`;
  return (
    <g>
      <defs>
        <clipPath id={clipId}>
          <rect x={px0} y={py0} width={px1 - px0} height={py1 - py0} />
        </clipPath>
      </defs>
      <rect x={px0} y={py0} width={px1 - px0} height={py1 - py0} fill="#ffffff" stroke="#d6d6d6" strokeWidth={1} />
      {gridVals.map((v, i) => (
        <line key={"h" + i} x1={px0} x2={px1} y1={ys(v)} y2={ys(v)} stroke="#e0e0e0" strokeWidth={1.2} />
      ))}
      {X_TICK_VALUES.map((c, i) => (
        <line key={"v" + i} x1={xs(c)} x2={xs(c)} y1={py0} y2={py1} stroke="#e0e0e0" strokeWidth={1.2} />
      ))}
      {minorVals.map((v, i) => (
        <line key={"mv" + i} x1={px0} x2={px0 + 3} y1={ys(v)} y2={ys(v)} stroke="#c4c4c4" strokeWidth={1} />
      ))}
      {minorX.map((c, i) => (
        <line key={"mx" + i} x1={xs(c)} x2={xs(c)} y1={py1 - 4} y2={py1} stroke="#c4c4c4" strokeWidth={1} />
      ))}
      {p.titles.map((t, i) => (
        <text key={"t" + i} x={p.titleX} y={p.titleY[i]} textAnchor={p.titleAnchor} fontSize={TITLE_FONT} fontFamily={FONT} fill="#111">
          {t}
        </text>
      ))}
      <g clipPath={`url(#${clipId})`}>
        {p.series.map(([c, vals], i) => (
          <path
            key={"s" + i}
            d={line(vals) || ""}
            fill="none"
            stroke={COLORS[c]}
            strokeWidth={WIDTHS[c]}
            strokeLinejoin="round"
            strokeLinecap="round"
            opacity={0.95}
          />
        ))}
        <line x1={px0} x2={px1} y1={ys(0)} y2={ys(0)} stroke="#3434a8" strokeWidth={1.7} strokeDasharray="4,2.5" />
      </g>
      <text x={px0 + 2} y={ys(0) - 3} fontSize={10} fontWeight="bold" fontFamily={FONT} fill="#5252c8">
        0.000
      </text>
      {p.yTicks.map((t, i) =>
        p.yTickWidth ? (
          <text
            key={"y" + i}
            x={p.yTickRight - p.yTickWidth}
            y={yl(i) + p.yTickFont * 0.36}
            textLength={p.yTickWidth}
            lengthAdjust="spacingAndGlyphs"
            fontSize={p.yTickFont}
            fontFamily={FONT}
            fill="#111"
          >
            {t}
          </text>
        ) : (
          <text key={"y" + i} x={p.yTickRight} y={yl(i) + p.yTickFont * 0.36} textAnchor="end" fontSize={p.yTickFont} fontFamily={FONT} fill="#111">
            {t}
          </text>
        )
      )}
      {X_TICK_LABELS.map((t, i) => (
        <text key={"x" + i} x={xl(X_TICK_VALUES[i])} y={p.xTickBase} textAnchor="middle" fontSize={XTICK_FONT} fontFamily={FONT} fill="#111">
          {t}
        </text>
      ))}
      <text x={p.cycle[0]} y={p.cycle[1]} textAnchor="middle" fontSize={CYCLE_FONT} fontFamily={FONT} fill="#111">
        Cycle
      </text>
      <text
        transform={`translate(${p.yLabel[0]},${p.yLabel[1]}) rotate(-90)`}
        textAnchor="middle"
        fontSize={YLABEL_FONT}
        fontFamily={FONT}
        fill="#111"
      >
        Fluorescence
      </text>
      <text x={p.letterPos[0]} y={p.letterPos[1]} fontSize={LETTER_FONT} fontFamily={FONT} fill="#111">
        {p.letter}
      </text>
    </g>
  );
}

export default function App() {
  return (
    <svg
      width={1950}
      height={1804}
      viewBox="0 0 1950 1804"
      style={{ position: "absolute", left: 0, top: 0, display: "block", background: "#fff" }}
    >
      <rect x={0} y={0} width={1950} height={1804} fill="#ffffff" />
      {PANELS.map((p) =>
        frameRects(p).map((r, i) => (
          <rect key={p.letter + "f" + i} x={r[0]} y={r[1]} width={r[2] - r[0]} height={r[3] - r[1]} fill="#fff" stroke="#c2c2c2" strokeWidth={1.5} />
        ))
      )}
      {PANELS.map((p) =>
        frameRects(p).map((r, i) => (
          <rect key={p.letter + "g" + i} x={r[0] + 1} y={r[1] + 1} width={r[2] - r[0] - 2} height={r[3] - r[1] - 2} fill="#fff" />
        ))
      )}
      {PANELS.map((p) => (
        <PanelView key={p.letter} p={p} />
      ))}
    </svg>
  );
}
